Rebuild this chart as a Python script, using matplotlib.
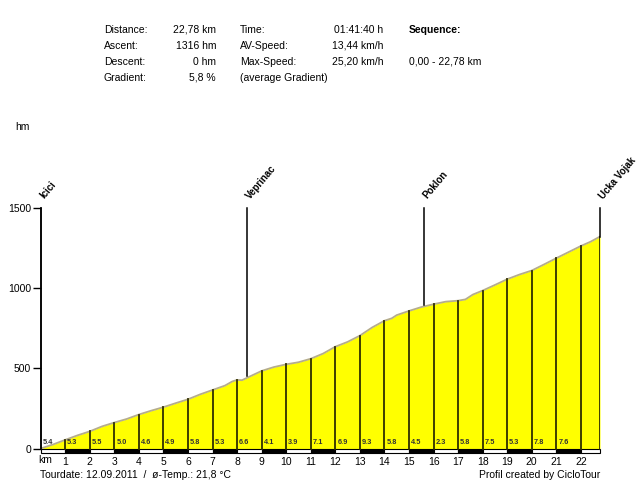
import matplotlib
matplotlib.use("Agg")
import matplotlib.pyplot as plt
from matplotlib.patches import Rectangle

plt.rcParams['font.family'] = ['Liberation Sans', 'DejaVu Sans']

# profile (km, hm)
dist = [0, 0.5, 1, 1.5, 2, 2.5, 3, 3.5, 4, 4.5, 5, 5.5, 6, 6.5, 7, 7.5, 7.8, 8,
        8.2, 8.5, 9, 9.5, 10, 10.5, 11, 11.5, 12, 12.5, 13, 13.5, 14, 14.3, 14.5,
        15, 15.5, 16, 16.5, 17, 17.3, 17.6, 18, 18.5, 19, 19.5, 20, 20.5, 21,
        21.5, 22, 22.4, 22.78]
elev = [0, 25, 54, 82, 107, 138, 162, 184, 212, 236, 258, 283, 307, 338, 365,
        392, 418, 428, 426, 448, 484, 508, 525, 538, 560, 592, 635, 665, 704,
        755, 797, 812, 832, 858, 882, 900, 916, 922, 930, 960, 985, 1020, 1056,
        1085, 1110, 1148, 1187, 1225, 1263, 1290, 1322]

km_elev = [0, 54, 107, 162, 212, 258, 307, 365, 425, 484, 525, 560, 635, 704,
           797, 858, 900, 922, 985, 1056, 1110, 1187, 1263, 1322]
km_pos = [0, 1, 2, 3, 4, 5, 6, 7, 8, 9, 10, 11, 12, 13, 14, 15, 16, 17, 18, 19,
          20, 21, 22, 22.78]
gradients = ['5.4', '5.3', '5.5', '5.0', '4.6', '4.9', '5.8', '5.3', '6.6', '4.1',
             '3.9', '7.1', '6.9', '9.3', '5.8', '4.5', '2.3', '5.8', '7.5', '5.3',
             '7.8', '7.6']

places = ['Icici', 'Veprinac', 'Poklon', 'Ucka Vojak']
place_km = [0, 8.4, 15.63, 22.78]
place_elev = [0, 452, 892, 1322]

fig = plt.figure(figsize=(6.4, 4.8), dpi=100)
ax = fig.add_axes([40.7 / 640, 1 - 453 / 480, (600 - 40.7) / 640, (453 - 208) / 480])
ax.set_xlim(0, 22.78)
ax.set_ylim(-28, 1500)

ax.fill_between(dist, elev, 0, color='#ffff00', lw=0)
ax.plot(dist, elev, color='#b5ad8c', lw=1.3)

for k, e in zip(km_pos[1:], km_elev[1:]):
    ax.plot([k, k], [0, e], color='#2f2f00', lw=1.3)

for i, g in enumerate(gradients):
    ax.text(i + 0.08, 18, g, fontsize=5.3, fontweight='bold', color='#333333',
            ha='left', va='bottom')

# km strip
for i in range(len(km_pos) - 1):
    c = 'black' if i % 2 else 'white'
    ax.add_patch(Rectangle((km_pos[i], -28), km_pos[i + 1] - km_pos[i], 28,
                           facecolor=c, edgecolor='black', lw=0.8, clip_on=False))

for name, k, e in zip(places, place_km, place_elev):
    ax.plot([k, k], [e, 1500], color='black', lw=1.1, clip_on=False)
    ax.text(k + 0.2, 1545, name, rotation=50, rotation_mode='anchor',
            ha='left', va='bottom', fontsize=7, fontweight='bold')

for s in ['top', 'right', 'bottom']:
    ax.spines[s].set_visible(False)
ax.spines['left'].set_bounds(0, 1500)
ax.spines['left'].set_linewidth(1.1)
ax.set_yticks([0, 500, 1000, 1500])
ax.tick_params(axis='y', length=6, width=1, labelsize=7.5, pad=1)
ax.set_xticks(range(1, 23))
ax.tick_params(axis='x', length=0, labelsize=7.5, pad=3)

fig.text(45 / 640, 1 - 460 / 480, 'km', fontsize=7.5, ha='center', va='center')
fig.text(15 / 640, 1 - 127 / 480, 'hm', fontsize=7.5, ha='left', va='center')
fig.text(40 / 640, 1 - 475 / 480, 'Tourdate: 12.09.2011  /  ø-Temp.: 21,8 °C',
         fontsize=7.5, ha='left', va='center')
fig.text(600 / 640, 1 - 475 / 480, 'Profil created by CicloTour',
         fontsize=7.5, ha='right', va='center')

# header
rows = [30, 46, 62, 78]
col1 = ['Distance:', 'Ascent:', 'Descent:', 'Gradient:']
val1 = ['22,78 km', '1316 hm', '0 hm', '5,8 %']
col2 = ['Time:', 'AV-Speed:', 'Max-Speed:', '(average Gradient)']
val2 = ['01:41:40 h', '13,44 km/h', '25,20 km/h', '']
col3 = ['Sequence:', '', '0,00 - 22,78 km', '']
for r, a, b, c, d, e in zip(rows, col1, val1, col2, val2, col3):
    y = 1 - r / 480
    fig.text(104 / 640, y, a, fontsize=7.5, ha='left', va='center')
    fig.text(216 / 640, y, b, fontsize=7.5, ha='right', va='center')
    fig.text(240 / 640, y, c, fontsize=7.5, ha='left', va='center')
    fig.text(383 / 640, y, d, fontsize=7.5, ha='right', va='center')
    fig.text(409 / 640, y, e, fontsize=7.5, ha='left', va='center',
             fontweight='bold' if e == 'Sequence:' else 'normal')

fig.savefig('out.png', dpi=100)
